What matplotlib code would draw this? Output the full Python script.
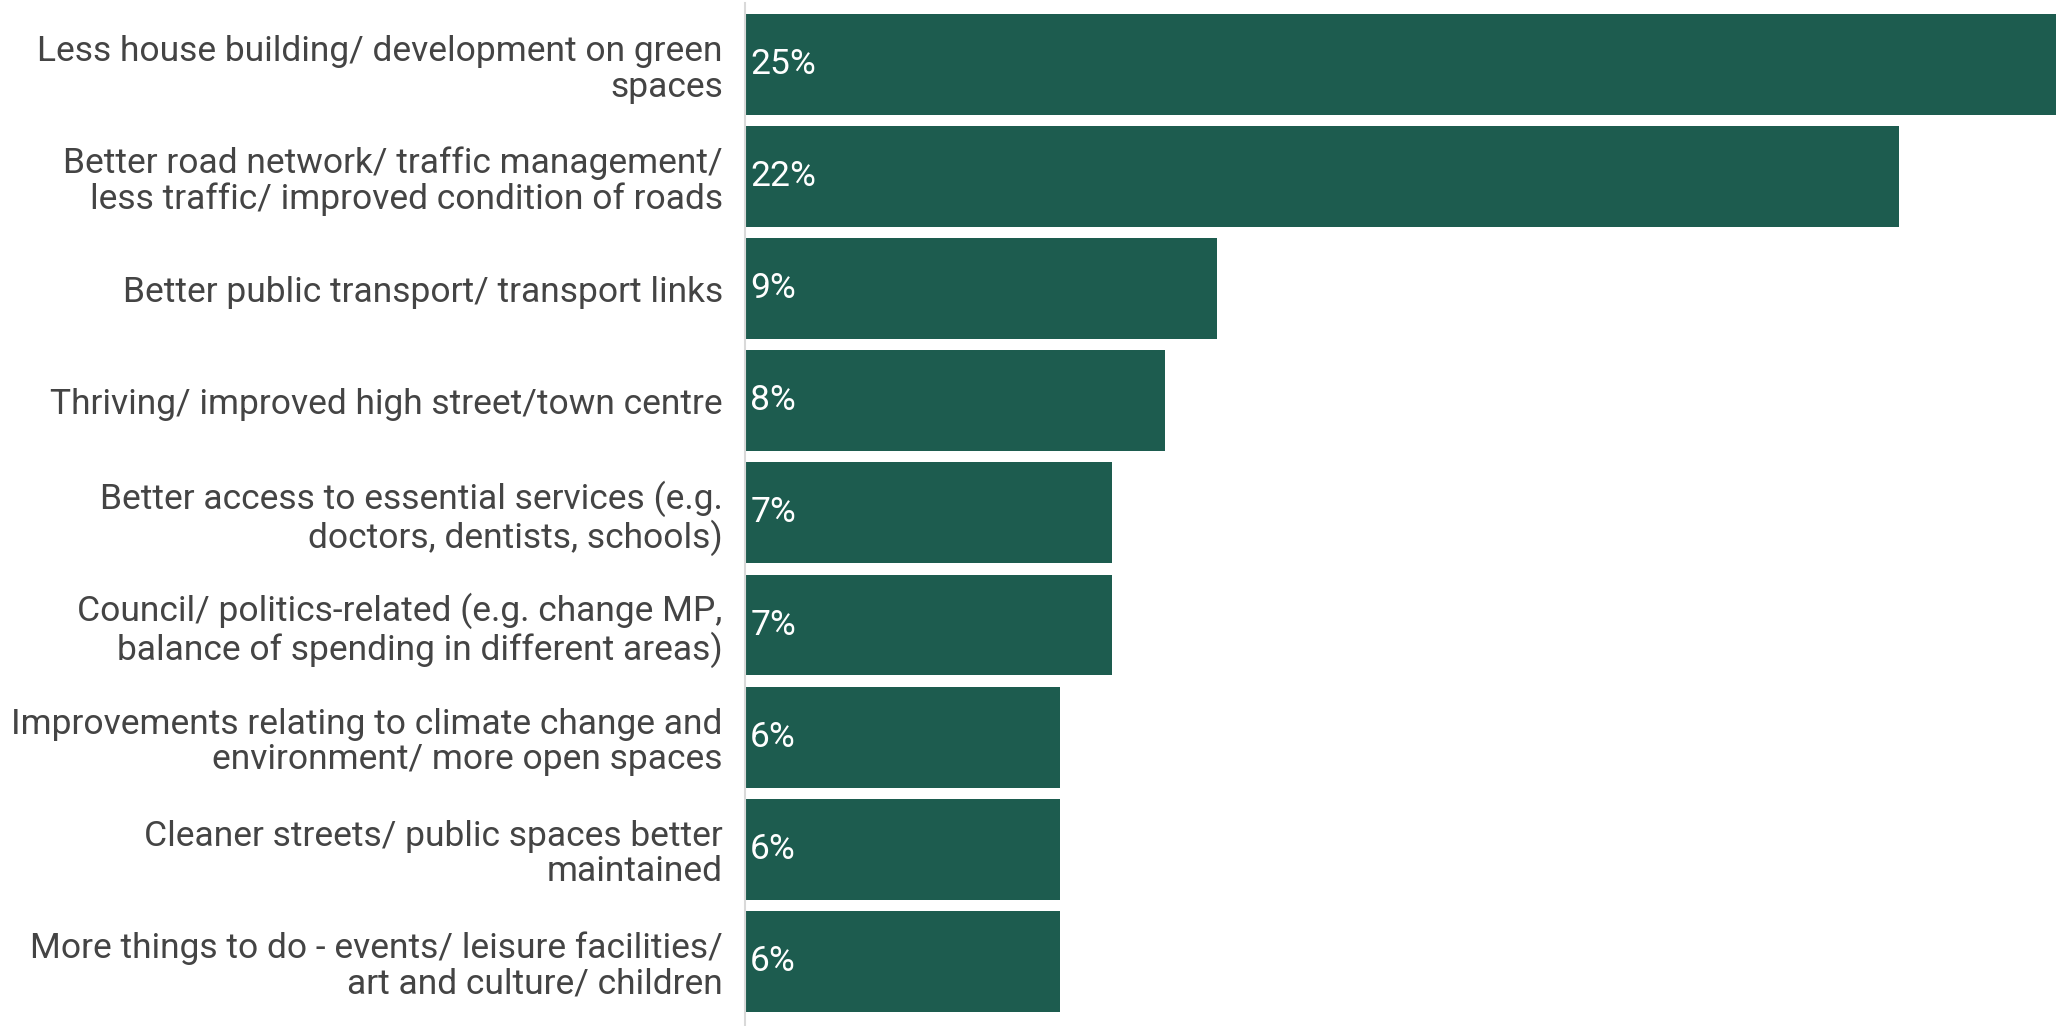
import matplotlib.pyplot as plt

plt.rcParams['font.family'] = ['Roboto', 'DejaVu Sans']

categories = [
    "Less house building/ development on green\nspaces",
    "Better road network/ traffic management/\nless traffic/ improved condition of roads",
    "Better public transport/ transport links",
    "Thriving/ improved high street/town centre",
    "Better access to essential services (e.g.\ndoctors, dentists, schools)",
    "Council/ politics-related (e.g. change MP,\nbalance of spending in different areas)",
    "Improvements relating to climate change and\nenvironment/ more open spaces",
    "Cleaner streets/ public spaces better\nmaintained",
    "More things to do - events/ leisure facilities/\nart and culture/ children",
]
values = [25, 22, 9, 8, 7, 7, 6, 6, 6]

BAR_COLOR = "#1d5c4f"
TEXT_COLOR = "#444444"

fig = plt.figure(figsize=(20.56, 10.26), dpi=100)
ax = fig.add_axes([745 / 2056, 0, 1 - 745 / 2056, 1023 / 1026])

pos = list(range(len(categories)))
ax.barh(pos, values, height=0.9, color=BAR_COLOR)

for y, v in zip(pos, values):
    ax.text(0.1, y, f"{v}%", color="white", fontsize=25.5,
            va="center", ha="left")

ax.set_xlim(0, 25)
ax.set_ylim(8.577, -0.549)
ax.set_yticks(pos)
ax.set_yticklabels(categories, fontsize=25.5, color=TEXT_COLOR, linespacing=1.1)
ax.tick_params(axis="y", length=0, pad=16)
ax.set_xticks([])

for side in ("top", "right", "bottom"):
    ax.spines[side].set_visible(False)
ax.spines["left"].set_color("#d9d9d9")
ax.spines["left"].set_linewidth(1.5)

fig.savefig("out.png", dpi=100)
